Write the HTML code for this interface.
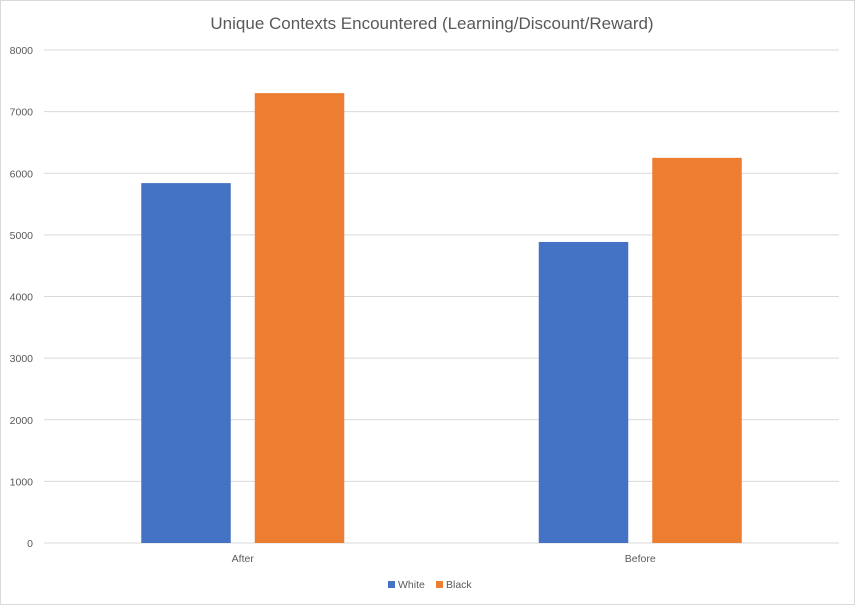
<!DOCTYPE html>
<html><head><meta charset="utf-8"><style>
html,body{margin:0;padding:0;background:#fff}
svg{display:block;font-family:"Liberation Sans",sans-serif}
</style></head><body>
<svg id="chart" width="855" height="605">
<rect x="0.5" y="0.5" width="854" height="604" fill="#fff" stroke="#d9d9d9"/>
<text x="432" y="29" text-anchor="middle" font-size="17" fill="#595959">Unique Contexts Encountered (Learning/Discount/Reward)</text>
<g id="grid"></g><g id="bars"></g><g id="labels"></g>
<g>
<rect x="388" y="581" width="7" height="7" fill="#4472c4"/>
<text x="398" y="588" font-size="10.5" fill="#595959">White</text>
<rect x="436" y="581" width="7" height="7" fill="#ed7d31"/>
<text x="446" y="588" font-size="10.5" fill="#595959">Black</text>
</g>
</svg>
<script>
const categories=["After","Before"];
const whiteValues=[5840,4885];
const blackValues=[7300,6250];
const yTicks=[0,1000,2000,3000,4000,5000,6000,7000,8000];
const NS="http://www.w3.org/2000/svg";
const x0=44,x1=839,yBase=543,yTop=50,yMax=8000;
const y=v=>yBase-(v/yMax)*(yBase-yTop);
const bandW=(x1-x0)/categories.length;
const cx=i=>x0+bandW*(i+0.5);
function mk(tag,attrs,parent){const e=document.createElementNS(NS,tag);for(const k in attrs)e.setAttribute(k,attrs[k]);parent.appendChild(e);return e;}
const grid=document.getElementById('grid'),bars=document.getElementById('bars'),labels=document.getElementById('labels');
yTicks.forEach(t=>{
  const l=mk('line',{x1:x0,x2:x1,y1:y(t),y2:y(t),stroke:'#d9d9d9','stroke-width':1},grid);
  
  
  const tx=mk('text',{x:33,y:y(t)+4,'text-anchor':'end','font-size':10.5,fill:'#595959'},labels);
  tx.textContent=t;
  
  
});
const bw=89.5,gap=24;
categories.forEach((c,i)=>{
  const w=mk('rect',{x:cx(i)-gap/2-bw,y:y(whiteValues[i]),width:bw,height:yBase-y(whiteValues[i]),fill:'#4472c4'},bars);
  
  
  const b=mk('rect',{x:cx(i)+gap/2,y:y(blackValues[i]),width:bw,height:yBase-y(blackValues[i]),fill:'#ed7d31'},bars);
  
  
  const tx=mk('text',{x:cx(i),y:562,'text-anchor':'middle','font-size':10.5,fill:'#595959'},labels);
  tx.textContent=c;
  
  
});
</script>
</body></html>
